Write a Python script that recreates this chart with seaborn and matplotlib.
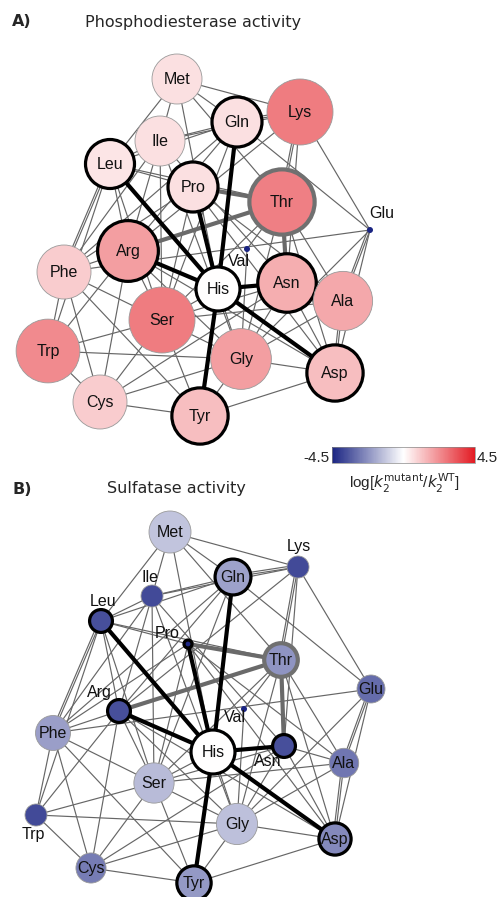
import numpy as np
import pandas as pd
import matplotlib
matplotlib.use("Agg")
import matplotlib.pyplot as plt
import matplotlib.cm as cm
from matplotlib.colors import LinearSegmentedColormap, Normalize
from matplotlib.collections import LineCollection
import seaborn as sns

# ---- data -------------------------------------------------------------
residues = ["Met", "Lys", "Gln", "Ile", "Leu", "Pro", "Thr", "Glu", "Arg", "Val",
            "Phe", "His", "Asn", "Ala", "Ser", "Trp", "Gly", "Asp", "Cys", "Tyr"]

# log(k2 mutant / k2 WT)
phosphodiesterase = [0.6, 2.6, 0.6, 0.6, 0.5, 0.6, 2.5, -4.5, 1.9, -4.5,
                     1.0, 0.0, 1.6, 1.7, 2.6, 2.3, 1.9, 1.3, 1.0, 1.3]
sulfatase = [-1.2, -3.7, -1.9, -3.7, -3.6, -4.4, -2.2, -3.0, -3.6, -4.5,
             -2.0, 0.0, -3.6, -2.8, -1.4, -3.7, -1.3, -2.4, -2.7, -2.1]

# interaction network
hub_edges = [("His", "Leu"), ("His", "Gln"), ("His", "Pro"), ("His", "Arg"),
             ("His", "Asn"), ("His", "Tyr"), ("His", "Asp")]
thr_edges = [("Thr", "Pro"), ("Thr", "Arg"), ("Thr", "Asn")]
thin_edges = [
    ("Met", "Leu"), ("Met", "Ile"), ("Met", "Lys"), ("Met", "Thr"), ("Met", "His"), ("Met", "Gln"),
    ("Lys", "Gln"), ("Lys", "Ile"), ("Lys", "Thr"), ("Lys", "Asn"), ("Lys", "Glu"), ("Lys", "Arg"),
    ("Gln", "Ile"), ("Gln", "Leu"), ("Gln", "Glu"), ("Gln", "Phe"), ("Gln", "Ser"), ("Gln", "Arg"),
    ("Ile", "Leu"), ("Ile", "Arg"), ("Ile", "Phe"), ("Ile", "Ser"), ("Ile", "Asn"), ("Ile", "Gly"),
    ("Leu", "Phe"), ("Leu", "Arg"), ("Leu", "Trp"), ("Leu", "Ser"), ("Leu", "Thr"), ("Leu", "Pro"),
    ("Pro", "Phe"), ("Pro", "Ser"), ("Pro", "Ala"), ("Pro", "Asp"),
    ("Thr", "Ala"), ("Thr", "Asp"), ("Thr", "Gly"), ("Thr", "Val"), ("Thr", "Ser"),
    ("Glu", "Phe"), ("Glu", "Ala"), ("Glu", "Asp"), ("Glu", "Gly"),
    ("Arg", "Phe"), ("Arg", "Ser"), ("Arg", "Trp"), ("Arg", "Cys"), ("Arg", "Gly"), ("Arg", "Asp"),
    ("Val", "Gly"),
    ("Phe", "Trp"), ("Phe", "Cys"), ("Phe", "Ser"), ("Phe", "Tyr"),
    ("His", "Ser"), ("His", "Gly"),
    ("Asn", "Ala"), ("Asn", "Gly"), ("Asn", "Asp"), ("Asn", "Ser"), ("Asn", "Cys"),
    ("Ala", "Asp"), ("Ala", "Gly"), ("Ala", "Ser"),
    ("Ser", "Trp"), ("Ser", "Cys"), ("Ser", "Gly"), ("Ser", "Tyr"),
    ("Trp", "Gly"), ("Trp", "Cys"),
    ("Gly", "Asp"), ("Gly", "Cys"), ("Gly", "Tyr"),
    ("Cys", "Tyr"), ("Tyr", "Asp"),
]
double_edges = [("Leu", "Phe"), ("Lys", "Gln"), ("Lys", "Thr"), ("Ala", "Asp"), ("Glu", "Ala")]

black_ring = ["Gln", "Leu", "Pro", "Arg", "His", "Asn", "Asp", "Tyr"]
grey_ring = ["Thr"]

# ---- layout (figure pixels) -------------------------------------------
layout_a = {
    "Met": (177, 79), "Lys": (300, 112), "Gln": (237, 122), "Ile": (160, 141),
    "Leu": (110, 164), "Pro": (193, 187), "Thr": (282, 202), "Glu": (370, 230),
    "Arg": (128, 251), "Val": (247, 249), "Phe": (64, 272), "His": (218, 289),
    "Asn": (287, 283), "Ala": (343, 301), "Ser": (162, 320), "Trp": (48, 351),
    "Gly": (241, 359), "Asp": (335, 373), "Cys": (100, 402), "Tyr": (200, 416),
}
layout_b = {
    "Met": (170, 532), "Lys": (298, 567), "Gln": (233, 577), "Ile": (152, 596),
    "Leu": (101, 621), "Pro": (188, 644), "Thr": (281, 660), "Glu": (371, 689),
    "Arg": (119, 711), "Val": (244, 709), "Phe": (53, 733), "His": (213, 752),
    "Asn": (284, 746), "Ala": (344, 763), "Ser": (154, 783), "Trp": (36, 815),
    "Gly": (237, 824), "Asp": (335, 839), "Cys": (91, 868), "Tyr": (194, 883),
}
# labels placed beside small nodes: (dx, dy)
offsets_a = {"Glu": (12, -17), "Val": (-8, 12)}
offsets_b = {"Lys": (1, -20), "Ile": (-2, -18), "Leu": (2, -19), "Pro": (-21, -11),
             "Arg": (-20, -18), "Val": (-9, 8), "Asn": (-16, 16), "Trp": (-3, 20)}

cmap = LinearSegmentedColormap.from_list("k2ratio", ["#1a2482", "#ffffff", "#e31b23"])
norm = Normalize(-4.5, 4.5)

LABEL_FONT = ["Liberation Sans", "DejaVu Sans"]


def node_radius(v):
    return np.interp(v, [-4.5, -4.4, -3.7, -3.0, -2.0, -1.2, 0.0, 1.0, 2.6],
                     [3.0, 4.0, 11.0, 14.0, 17.5, 21.0, 22.0, 27.0, 33.0])


sns.set_theme(style="white")
fig = plt.figure(figsize=(5.0, 8.97), dpi=100)
ax = fig.add_axes([0, 0, 1, 1])


def draw_panel(values, layout, offsets):
    px_to_pt = 0.72
    segs_thin = [[layout[a], layout[b]] for a, b in thin_edges]
    for a, b in double_edges:
        (x0, y0), (x1, y1) = layout[a], layout[b]
        d = np.array([x1 - x0, y1 - y0], float)
        n = np.array([-d[1], d[0]]) / np.hypot(*d) * 2.0
        segs_thin.append([(x0 + n[0], y0 + n[1]), (x1 + n[0], y1 + n[1])])
    ax.add_collection(LineCollection(segs_thin, colors="#666666",
                                     linewidths=0.85, zorder=1))
    ax.add_collection(LineCollection([[layout[a], layout[b]] for a, b in thr_edges],
                                     colors="#6a6a6a", linewidths=3.0, zorder=2))
    ax.add_collection(LineCollection([[layout[a], layout[b]] for a, b in hub_edges],
                                     colors="black", linewidths=3.0, zorder=2))

    df = pd.DataFrame({"residue": residues, "value": values})
    df["x"] = [layout[r][0] for r in residues]
    df["y"] = [layout[r][1] for r in residues]
    radius = node_radius(df["value"].to_numpy())
    df["area"] = (2 * radius * px_to_pt) ** 2
    ec, lw = [], []
    for r, v in zip(residues, values):
        if r in black_ring:
            ec.append("black"); lw.append(2.3)
        elif r in grey_ring:
            ec.append("#707070"); lw.append(3.0)
        elif v <= -4.45:
            ec.append("none"); lw.append(0.0)
        else:
            ec.append("#9a9a9a"); lw.append(0.6)
    sns.scatterplot(data=df, x="x", y="y", hue="value", palette=cmap,
                    hue_norm=(-4.5, 4.5), s=df["area"].to_numpy(),
                    edgecolor=ec, linewidth=lw, legend=False, ax=ax, zorder=3)
    for r, (x, y) in layout.items():
        dx, dy = offsets.get(r, (0, 0.5))
        ax.text(x + dx, y + dy, r, ha="center", va="center", fontsize=11.5,
                family=LABEL_FONT, color="#111111", zorder=5)


draw_panel(phosphodiesterase, layout_a, offsets_a)
draw_panel(sulfatase, layout_b, offsets_b)
ax.set_xlim(0, 500)
ax.set_ylim(897, 0)
ax.axis("off")

# panel headings
fig.text(12 / 500, 1 - 22 / 897, "A)", fontsize=11.5, fontweight="bold",
         va="center", ha="left")
fig.text(85 / 500, 1 - 22 / 897, "Phosphodiesterase activity", fontsize=11.5,
         va="center", ha="left")
fig.text(12 / 500, 1 - 489 / 897, "B)", fontsize=11.5, fontweight="bold",
         va="center", ha="left")
fig.text(107 / 500, 1 - 488 / 897, "Sulfatase activity", fontsize=11.5,
         va="center", ha="left")

# colour scale
cax = fig.add_axes([332 / 500, 1 - 463 / 897, 143 / 500, 16 / 897])
cb = fig.colorbar(cm.ScalarMappable(norm=norm, cmap=cmap), cax=cax,
                  orientation="horizontal")
cb.set_ticks([])
cb.outline.set_linewidth(0.5)
cb.outline.set_edgecolor("#888888")
fig.text(329 / 500, 1 - 458 / 897, "-4.5", fontsize=11, ha="right", va="center",
         family=LABEL_FONT)
fig.text(477 / 500, 1 - 458 / 897, "4.5", fontsize=11, ha="left", va="center",
         family=LABEL_FONT)
fig.text(404 / 500, 1 - 483 / 897,
         r"log[$k_2^{\mathrm{mutant}}$/$k_2^{\mathrm{WT}}$]",
         fontsize=11, ha="center", va="center", family=LABEL_FONT)

fig.savefig("out.png", dpi=100)
